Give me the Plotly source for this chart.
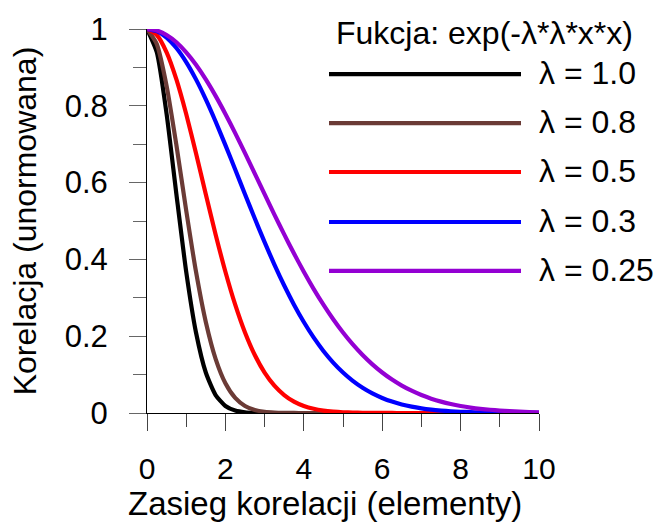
import plotly.graph_objects as go

# ---- data ----
x_vals = [0, 0.25, 0.5, 0.75, 1, 1.25, 1.5, 1.75, 2, 2.25, 2.5, 2.75, 3, 3.25, 3.5, 3.75,
          4, 4.25, 4.5, 4.75, 5, 5.25, 5.5, 5.75, 6, 6.25, 6.5, 6.75, 7, 7.25, 7.5, 7.75,
          8, 8.25, 8.5, 8.75, 9, 9.25, 9.5, 9.75, 10]

y_l100 = [1, 0.9394, 0.7788, 0.5698, 0.3679, 0.2096, 0.1054, 0.0468, 0.0183, 0.0063, 0.0019,
          0.0005, 0.0001, 0, 0, 0, 0, 0, 0, 0, 0, 0, 0, 0, 0, 0, 0, 0, 0, 0, 0, 0,
          0, 0, 0, 0, 0, 0, 0, 0, 0]
y_l080 = [1, 0.9608, 0.8521, 0.6977, 0.5273, 0.3679, 0.2369, 0.1409, 0.0773, 0.0392, 0.0183,
          0.0079, 0.0032, 0.0012, 0.0004, 0.0001, 0, 0, 0, 0, 0, 0, 0, 0, 0, 0, 0, 0, 0, 0,
          0, 0, 0, 0, 0, 0, 0, 0, 0, 0, 0]
y_l050 = [1, 0.9845, 0.9394, 0.8688, 0.7788, 0.6766, 0.5698, 0.4650, 0.3679, 0.2821, 0.2096,
          0.1509, 0.1054, 0.0713, 0.0468, 0.0297, 0.0183, 0.0109, 0.0063, 0.0036, 0.0019,
          0.0010, 0.0005, 0.0003, 0.0001, 0.0001, 0, 0, 0, 0, 0, 0, 0, 0, 0, 0, 0, 0, 0, 0, 0]
y_l030 = [1, 0.9944, 0.9778, 0.9506, 0.9139, 0.8688, 0.8167, 0.7591, 0.6977, 0.6341, 0.5698,
          0.5063, 0.4449, 0.3865, 0.3320, 0.2821, 0.2369, 0.1968, 0.1616, 0.1313, 0.1054,
          0.0837, 0.0657, 0.0510, 0.0392, 0.0297, 0.0223, 0.0166, 0.0122, 0.0088, 0.0063,
          0.0045, 0.0032, 0.0022, 0.0015, 0.0010, 0.0007, 0.0005, 0.0003, 0.0002, 0.0001]
y_l025 = [1, 0.9961, 0.9845, 0.9655, 0.9394, 0.9070, 0.8688, 0.8258, 0.7788, 0.7288, 0.6766,
          0.6233, 0.5698, 0.5168, 0.4650, 0.4152, 0.3679, 0.3234, 0.2821, 0.2441, 0.2096,
          0.1786, 0.1510, 0.1266, 0.1054, 0.0870, 0.0713, 0.0580, 0.0468, 0.0374, 0.0297,
          0.0234, 0.0183, 0.0142, 0.0109, 0.0084, 0.0063, 0.0048, 0.0036, 0.0026, 0.0019]

series_names = ["λ = 1.0", "λ = 0.8", "λ = 0.5", "λ = 0.3", "λ = 0.25"]
series_values = [y_l100, y_l080, y_l050, y_l030, y_l025]
series_colors = ["#000000", "#6B3B36", "#FF0000", "#0000FF", "#9400D3"]

legend_title = "Fukcja: exp(-λ*λ*x*x)"
x_title = "Zasieg korelacji (elementy)"
y_title = "Korelacja (unormowana)"

y_tickvals = [0, 0.2, 0.4, 0.6, 0.8, 1]
y_ticktext = ["0", "0.2", "0.4", "0.6", "0.8", "1"]
x_tickvals = [0, 2, 4, 6, 8, 10]
x_ticktext = ["0", "2", "4", "6", "8", "10"]

# ---- figure ----
FONT = "Liberation Sans, Arial, sans-serif"
FS = 32
FS_TICK = 30
W, H = 663, 523
L, R, T, B = 147, 124, 21, 110
pw, ph = W - L - R, H - T - B
LW = 4.2

fig = go.Figure()
for name, ys, col in zip(series_names, series_values, series_colors):
    fig.add_trace(go.Scatter(
        x=x_vals, y=ys, mode="lines", name=name,
        line=dict(color=col, width=LW, shape="spline", smoothing=0.6),
        cliponaxis=False, showlegend=False, hoverinfo="skip"))

# legend drawn manually (long sample lines as in the reference)
leg_y_px = [67, 117, 167, 218, 268]
for name, col, ypx in zip(series_names, series_colors, leg_y_px):
    yp = (H - B - ypx) / ph
    fig.add_shape(type="line", xref="paper", yref="paper",
                  x0=(329 - L) / pw, x1=(521 - L) / pw, y0=yp, y1=yp,
                  line=dict(color=col, width=LW))
    fig.add_annotation(xref="paper", yref="paper", x=(537 - L) / pw, y=yp + 1 / ph,
                       text=name, showarrow=False, xanchor="left", yanchor="middle",
                       font=dict(family=FONT, size=FS, color="black"))
fig.add_annotation(xref="paper", yref="paper", x=(334 - L) / pw, y=(H - B - 25) / ph,
                   text=legend_title, showarrow=False, xanchor="left", yanchor="middle",
                   font=dict(family=FONT, size=FS, color="black"))

fig.add_annotation(xref="paper", yref="paper", x=(325 - L) / pw, y=(H - B - 505) / ph,
                   text=x_title, showarrow=False, xanchor="center", yanchor="middle",
                   font=dict(family=FONT, size=33, color="black"))

fig.update_layout(
    width=W, height=H,
    margin=dict(l=L, r=R, t=T, b=B, pad=0),
    paper_bgcolor="white", plot_bgcolor="white",
    font=dict(family=FONT, size=FS, color="black"),
    xaxis=dict(range=[0, 10], tickvals=x_tickvals, ticktext=x_ticktext,
               showgrid=False, zeroline=False, showline=True, linecolor="black",
               linewidth=1, ticks="outside", ticklen=17, tickcolor="#444", tickwidth=1,
               ticklabelstandoff=12, layer="below traces",
               minor=dict(dtick=1, ticks="outside", ticklen=13, tickcolor="#444",
                          tickwidth=1, showgrid=False),
               tickfont=dict(family=FONT, size=FS_TICK)),
    yaxis=dict(range=[0, 1], tickvals=y_tickvals, ticktext=y_ticktext,
               showgrid=False, zeroline=False, showline=True, linecolor="black",
               linewidth=1, ticks="outside", ticklen=17, tickcolor="#666", tickwidth=1,
               ticklabelstandoff=15, layer="below traces",
               minor=dict(dtick=0.1, ticks="outside", ticklen=13, tickcolor="#666",
                          tickwidth=1, showgrid=False),
               tickfont=dict(family=FONT, size=FS_TICK + 1),
               title=dict(text=y_title, font=dict(family=FONT, size=FS), standoff=18)),
)

fig.write_html("out.html")
